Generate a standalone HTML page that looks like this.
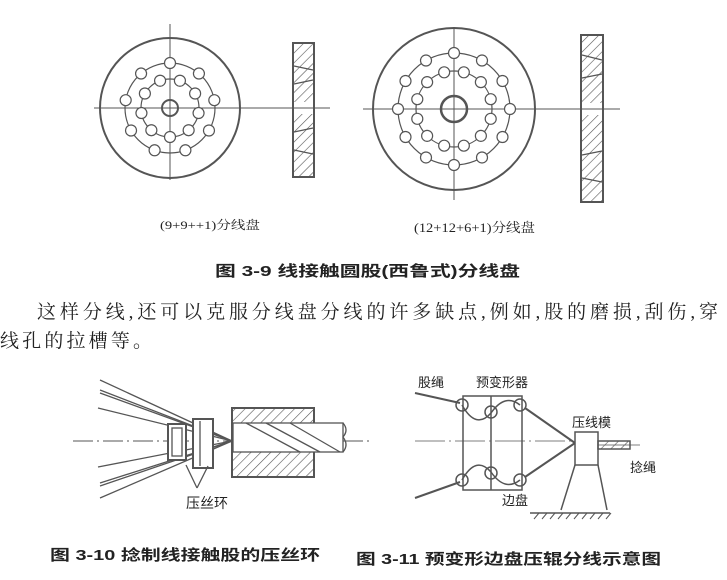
<!DOCTYPE html>
<html><head><meta charset="utf-8"><style>
body{margin:0;background:#fff;width:727px;height:580px;overflow:hidden;font-family:"Liberation Serif","Noto Serif CJK SC",serif;color:#333}
svg{position:absolute;left:0;top:0}
</style></head><body>
<svg id="s" width="727" height="580" viewBox="0 0 727 580" fill="none" stroke="#555" stroke-width="1.2">
<defs>
<pattern id="h" width="7" height="7" patternUnits="userSpaceOnUse" patternTransform="rotate(45)"><line x1="0" y1="0" x2="0" y2="7" stroke="#555" stroke-width="1.2"/></pattern>
</defs>
<circle cx="170" cy="108" r="70" stroke-width="2"/>
<circle cx="170" cy="108" r="45"/>
<circle cx="170" cy="108" r="29"/>
<circle cx="170" cy="108" r="8" stroke-width="2"/>
<line x1="94" y1="108" x2="326" y2="108" stroke-width="1"/>
<line x1="170" y1="24" x2="170" y2="180" stroke-width="1"/>
<rect x="293" y="43" width="21" height="134" fill="url(#h)" stroke-width="2"/>
<g stroke-width="1.2"><line x1="294" y1="66" x2="313" y2="70"/><line x1="294" y1="84" x2="313" y2="80"/><line x1="294" y1="132" x2="313" y2="128"/><line x1="294" y1="150" x2="313" y2="154"/></g>
<rect x="294" y="102" width="19" height="12" fill="#fff" stroke="none"/>
<line x1="293" y1="108" x2="330" y2="108" stroke-width="1"/>
<circle cx="454" cy="109" r="81" stroke-width="2"/>
<circle cx="454" cy="109" r="56"/>
<circle cx="454" cy="109" r="38"/>
<circle cx="454" cy="109" r="13" stroke-width="2.5"/>
<line x1="363" y1="109" x2="620" y2="109" stroke-width="1"/>
<line x1="454" y1="27" x2="454" y2="200" stroke-width="1"/>
<rect x="581" y="35" width="22" height="167" fill="url(#h)" stroke-width="2"/>
<g stroke-width="1.2"><line x1="582" y1="55" x2="602" y2="60"/><line x1="582" y1="78" x2="602" y2="74"/><line x1="582" y1="155" x2="602" y2="151"/><line x1="582" y1="178" x2="602" y2="182"/></g>
<rect x="582" y="103" width="20" height="12" fill="#fff" stroke="none"/>
<line x1="581" y1="109" x2="620" y2="109" stroke-width="1"/>
<g id="dots"></g>
<g stroke-width="1.3">
<line x1="100" y1="380" x2="232" y2="441"/>
<line x1="100" y1="390" x2="232" y2="441"/>
<line x1="100" y1="393" x2="232" y2="441"/>
<line x1="98" y1="408" x2="232" y2="441"/>
<line x1="98" y1="467" x2="232" y2="441"/>
<line x1="100" y1="483" x2="232" y2="441"/>
<line x1="100" y1="486" x2="232" y2="441"/>
<line x1="100" y1="498" x2="232" y2="441"/>
<line x1="73" y1="441" x2="370" y2="441" stroke-width="1" stroke-dasharray="20 4 2 4"/>
<rect x="168" y="424" width="18" height="36" fill="#fff" stroke-width="2"/>
<rect x="172" y="428" width="10" height="28" stroke-width="1.3"/>
<rect x="193" y="419" width="20" height="49" fill="#fff" stroke-width="2"/>
<line x1="200" y1="421" x2="200" y2="466"/>
<rect x="232" y="408" width="82" height="69" fill="url(#h)" stroke-width="2"/>
<rect x="233" y="423" width="110" height="29" fill="#fff" stroke-width="1.3"/>
<line x1="246" y1="423" x2="300" y2="452"/><line x1="266" y1="423" x2="320" y2="452"/><line x1="290" y1="423" x2="340" y2="452"/>
<path d="M343 423 q6 7 0 14 q6 8 0 15"/>
<line x1="186" y1="465" x2="197" y2="488"/><line x1="208" y1="466" x2="197" y2="488"/>
</g>
<g stroke-width="1.5">
<rect x="463" y="396" width="59" height="94"/>
<line x1="491" y1="396" x2="491" y2="490"/>
<line x1="415" y1="393" x2="460" y2="403" stroke-width="2"/>
<line x1="415" y1="498" x2="460" y2="482" stroke-width="2"/>
<line x1="415" y1="441" x2="575" y2="441" stroke-width="0.8" stroke-dasharray="30 4 2 4"/>
<path d="M462 405 q14 25 29 8 q14 -20 29 -8"/>
<path d="M462 480 q14 -25 29 -8 q14 20 29 8"/>
<circle cx="462" cy="405" r="6"/><circle cx="491" cy="412" r="6"/><circle cx="520" cy="405" r="6"/>
<circle cx="462" cy="480" r="6"/><circle cx="491" cy="473" r="6"/><circle cx="520" cy="480" r="6"/>
<line x1="525" y1="408" x2="575" y2="443" stroke-width="2"/>
<line x1="525" y1="477" x2="575" y2="443" stroke-width="2"/>
<rect x="575" y="432" width="23" height="33" fill="#fff"/>
<path d="M575 465 L561 510 M598 465 L607 510"/>
<line x1="530" y1="513" x2="610" y2="513" stroke-width="1.5"/>
<path d="M534 519 l5 -6 M542 519 l5 -6 M550 519 l5 -6 M558 519 l5 -6 M566 519 l5 -6 M574 519 l5 -6 M582 519 l5 -6 M590 519 l5 -6 M598 519 l5 -6 M606 519 l5 -6" stroke-width="1"/>
<rect x="598" y="441" width="32" height="8" fill="url(#h)"/>
<line x1="598" y1="445" x2="640" y2="445" stroke-width="0.8"/>
</g>
<g fill="#222" stroke="none" font-family="Liberation Serif,Noto Serif CJK SC,serif">
<text x="160" y="229" font-size="12" textLength="100" lengthAdjust="spacingAndGlyphs">(9+9++1)分线盘</text>
<text x="414" y="232" font-size="13" textLength="121" lengthAdjust="spacingAndGlyphs">(12+12+6+1)分线盘</text>
<text x="215" y="276" font-size="15" font-family="Liberation Sans,Noto Sans CJK SC,sans-serif" font-weight="bold" textLength="305" lengthAdjust="spacingAndGlyphs">图 3-9  线接触圆股(西鲁式)分线盘</text>
<text x="37" y="318" font-size="19" textLength="681" lengthAdjust="spacing">这样分线,还可以克服分线盘分线的许多缺点,例如,股的磨损,刮伤,穿</text>
<text x="0" y="347" font-size="19" textLength="152" lengthAdjust="spacing">线孔的拉槽等。</text>
<text x="186" y="508" font-size="14" font-family="Liberation Sans,Noto Sans CJK SC,sans-serif">压丝环</text>
<text x="418" y="387" font-size="13" font-family="Liberation Sans,Noto Sans CJK SC,sans-serif">股绳</text>
<text x="476" y="387" font-size="13" font-family="Liberation Sans,Noto Sans CJK SC,sans-serif">预变形器</text>
<text x="572" y="427" font-size="13" font-family="Liberation Sans,Noto Sans CJK SC,sans-serif">压线模</text>
<text x="630" y="472" font-size="13" font-family="Liberation Sans,Noto Sans CJK SC,sans-serif">捻绳</text>
<text x="502" y="505" font-size="13" font-family="Liberation Sans,Noto Sans CJK SC,sans-serif">边盘</text>
<text x="50" y="560" font-size="15" font-weight="bold" font-family="Liberation Sans,Noto Sans CJK SC,sans-serif" textLength="270" lengthAdjust="spacingAndGlyphs">图 3-10  捻制线接触股的压丝环</text>
<text x="356" y="564" font-size="15" font-weight="bold" font-family="Liberation Sans,Noto Sans CJK SC,sans-serif" textLength="305" lengthAdjust="spacingAndGlyphs">图 3-11  预变形边盘压辊分线示意图</text>
</g>
</svg>
<script>
var g=document.getElementById('dots'),ns='http://www.w3.org/2000/svg';
function ring(cx,cy,R,n,off){for(var i=0;i<n;i++){var a=off+i*2*Math.PI/n;var c=document.createElementNS(ns,'circle');c.setAttribute('cx',cx+R*Math.cos(a));c.setAttribute('cy',cy+R*Math.sin(a));c.setAttribute('r',5.5);c.setAttribute('fill','#fff');g.appendChild(c);}}
ring(170,108,45,9,-Math.PI/2);ring(170,108,29,9,Math.PI/2);
ring(454,109,56,12,0);ring(454,109,38,12,Math.PI/12);
</script>
</body></html>
